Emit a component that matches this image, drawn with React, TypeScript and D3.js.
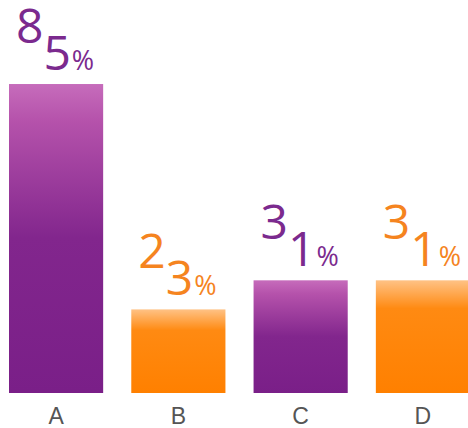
import React from 'react';
import * as d3 from 'd3';

const categories = ['A', 'B', 'C', 'D'];
const values = [85, 23, 31, 31];
const seriesColor = ['purple', 'orange', 'purple', 'orange'];

const W = 468;
const H = 428;

const textFill: Record<string, string> = { purple: '#7b2a8e', orange: '#f5841f' };

const App = () => {
  const x = d3.scaleBand<string>().domain(categories).range([9, 470]).paddingInner(0.23).paddingOuter(0);
  const y = d3.scaleLinear().domain([0, 100]).range([393, 29.5]);

  return (
    <svg width={W} height={H} style={{ position: 'absolute', left: 0, top: 0 }}>
      <defs>
        <linearGradient id="g-purple" x1="0" y1="0" x2="0" y2="1">
          <stop offset="0" stopColor="#c66cbb" />
          <stop offset="0.12" stopColor="#b552ab" />
          <stop offset="0.5" stopColor="#82268d" />
          <stop offset="1" stopColor="#7a1f88" />
        </linearGradient>
        <linearGradient id="g-orange" x1="0" y1="0" x2="0" y2="1">
          <stop offset="0" stopColor="#ffc285" />
          <stop offset="0.25" stopColor="#ff8a12" />
          <stop offset="1" stopColor="#ff8000" />
        </linearGradient>
      </defs>
      {categories.map((c, i) => {
        const v = values[i];
        const x0 = x(c) ?? 0;
        const top = y(v);
        const digits = String(v).split('');
        return (
          <g key={c}>
            <rect x={x0} y={top} width={x.bandwidth()} height={y(0) - top} fill={`url(#g-${seriesColor[i]})`} />
            <text
              x={x0 + x.bandwidth() / 2 - 1}
              y={top - 41}
              textAnchor="middle"
              fill={textFill[seriesColor[i]]}
              fontFamily="'Open Sans', 'Noto Sans', sans-serif"
              fontSize={48}
            >
              <tspan>{digits[0]}</tspan>
              <tspan dy={27}>{digits[1]}</tspan>
              <tspan fontSize={27} dx={1}>%</tspan>
            </text>
            <text
              x={x0 + x.bandwidth() / 2}
              y={424}
              textAnchor="middle"
              fill="#555"
              fontFamily="'Liberation Sans', Arial, sans-serif"
              fontSize={23}
            >
              {c}
            </text>
          </g>
        );
      })}
    </svg>
  );
};

export default App;
